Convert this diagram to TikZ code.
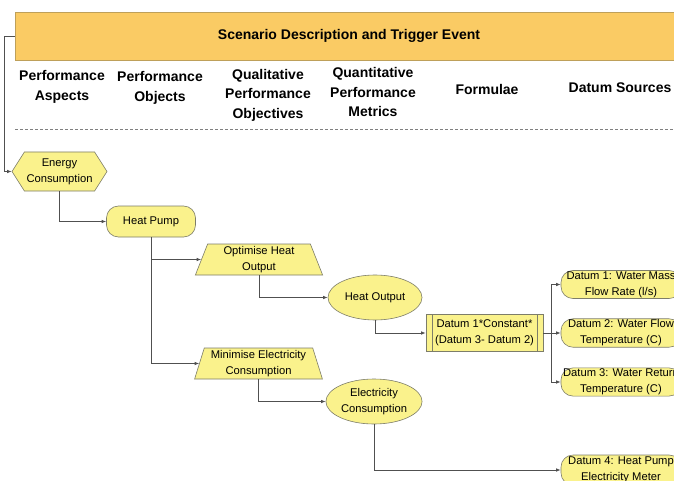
\documentclass[tikz,border=0pt]{standalone}
\usepackage{fontspec}
\setmainfont{Liberation Sans}
\usetikzlibrary{shapes.geometric,shapes.symbols,arrows.meta}
\definecolor{bannerfill}{RGB}{250,203,100}
\definecolor{bannerline}{RGB}{190,160,90}
\definecolor{nodefill}{RGB}{250,242,140}
\definecolor{edgegray}{RGB}{125,125,105}
\definecolor{linegray}{RGB}{80,80,80}
\begin{document}
\begin{tikzpicture}[x=1pt,y=-1pt,
  box/.style={draw=edgegray, fill=nodefill, line width=0.6pt,
    font=\fontsize{11.2}{16}\selectfont, align=center, inner sep=1pt},
  head/.style={font=\fontsize{14}{19.5}\selectfont\bfseries, align=center},
  link/.style={draw=linegray, line width=0.75pt, -{Latex[length=4.5pt,width=3.5pt]}},
  slope/.style={trapezium, trapezium stretches=true, trapezium left angle=73,
    trapezium right angle=73, minimum width=128pt, minimum height=31pt},
  datum/.style={box, rounded corners=12pt, minimum width=120pt, minimum height=28pt}
]
\useasboundingbox (0,0) rectangle (674,481);
\clip (0,0) rectangle (674,481);
\fill[white] (0,0) rectangle (674,481);

% banner and column headings
\node[draw=bannerline, fill=bannerfill, line width=0.6pt, minimum width=668pt,
  minimum height=48pt, font=\fontsize{14}{17}\selectfont\bfseries] (banner) at (349,36)
  {Scenario Description and Trigger Event};
\node[head] (hAspects) at (62,87) {Performance\\Aspects};
\node[head] (hObjects) at (160,88) {Performance\\Objects};
\node[head] (hQual) at (268,95) {Qualitative\\Performance\\Objectives};
\node[head] (hQuant) at (373,92) {Quantitative\\Performance\\Metrics};
\node[head] (hForm) at (487,89) {Formulae};
\node[head] (hDatum) at (620,88) {Datum Sources};
\coordinate (dashL) at (15,129);
\coordinate (dashR) at (674,129);
\draw[gray, line width=0.6pt, dash pattern=on 3pt off 2pt] (dashL) -- (dashR);

% process nodes
\node[box, signal, signal to=west and east, signal pointer angle=115,
  minimum width=95pt, minimum height=39pt] (energy) at (59.5,171.5) {Energy\\Consumption};
\node[box, rounded corners=12pt, minimum width=89pt, minimum height=31pt] (pump) at (151,221.5) {Heat Pump};
\node[box, slope] (optim) at (259,259.5) {Optimise Heat\\Output};
\node[box, slope] (minim) at (258.5,363.5) {Minimise Electricity\\Consumption};
\node[box, ellipse, minimum width=94pt, minimum height=45pt] (hout) at (375,297.5) {Heat Output};
\node[box, ellipse, minimum width=94pt, minimum height=45pt] (econs) at (374,401.5) {Electricity\\Consumption};
\node[box, minimum width=117pt, minimum height=37pt] (formula) at (484.5,333) {Datum 1*Constant*\\(Datum 3- Datum 2)};
\draw[edgegray, line width=0.6pt] ([xshift=7pt]formula.north west) -- ([xshift=7pt]formula.south west);
\draw[edgegray, line width=0.6pt] ([xshift=-6pt]formula.north east) -- ([xshift=-6pt]formula.south east);

% datum sources
\node[datum] (d1) at (621,284.5) {Datum 1: Water Mass\\Flow Rate (l/s)};
\node[datum] (d2) at (621,333) {Datum 2: Water Flow\\Temperature (C)};
\node[datum] (d3) at (621,382) {Datum 3: Water Return\\Temperature (C)};
\node[datum, minimum height=30pt] (d4) at (621,470) {Datum 4: Heat Pump\\Electricity Meter};

% connectors
\coordinate (bend) at (4,35);
\coordinate (split) at (551,333);
\draw[link] (banner.west) -- (bend |- banner.west) |- (energy.west);
\draw[link] (energy.south) |- (pump.west);
\draw[link] (pump.south) |- (optim.west);
\draw[link] (pump.south) |- (minim.west);
\draw[link] (optim.south) |- (hout.west);
\draw[link] (minim.south) |- (econs.west);
\draw[link] (hout.south) |- (formula.west);
\draw[link] (formula.east) -- (d2.west);
\draw[link] (split) |- (d1.west);
\draw[link] (split) |- (d3.west);
\draw[link] (econs.south) |- (d4.west);
\end{tikzpicture}
\end{document}
